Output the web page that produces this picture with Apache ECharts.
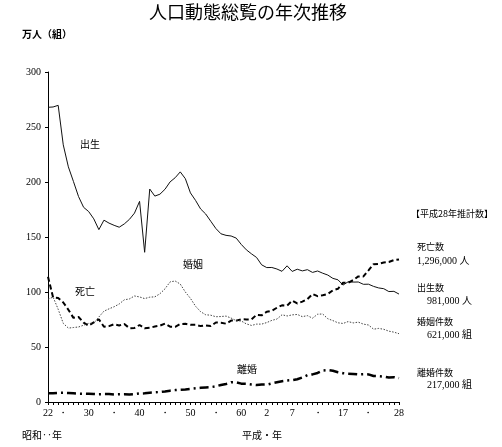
<!DOCTYPE html>
<html><head><meta charset="utf-8">
<script src="https://cdn.jsdelivr.net/npm/echarts@6/dist/echarts.min.js"></script>
<style>html,body{margin:0;padding:0;background:#fff}#c{width:502px;height:447px}</style>
</head><body><div id="c"></div>
<script>
const years = [];
for (let y = 1947; y <= 2016; y++) years.push(y);
const births = [267.9,268.2,269.7,233.8,213.8,200.5,186.8,177.0,173.1,166.5,156.7,165.3,162.6,160.6,158.9,161.9,166.0,171.7,182.4,136.1,193.6,187.2,188.9,193.4,200.1,203.9,209.2,203.0,190.1,183.3,175.5,170.9,164.3,157.7,152.9,151.5,150.9,149.0,143.2,138.3,134.7,131.4,124.7,122.2,122.3,120.9,118.8,123.8,118.7,120.7,119.2,120.3,117.8,119.1,117.1,115.4,112.4,111.1,106.3,109.3,109.0,109.1,107.0,107.1,105.1,103.7,103.0,100.4,100.6,98.1];
const deaths = [113.8,95.1,94.5,90.5,83.9,76.5,77.3,72.1,69.4,72.4,75.2,68.4,69.0,70.7,69.6,71.0,67.1,67.3,70.0,67.0,67.5,68.6,69.4,71.3,68.5,68.4,70.9,71.1,70.2,70.3,69.0,69.6,69.0,72.3,72.0,71.2,74.0,74.0,75.2,75.1,75.1,79.3,78.8,82.0,83.0,85.7,87.9,87.6,92.2,89.6,91.3,93.6,98.2,96.2,97.0,98.2,101.5,102.9,108.4,108.4,110.8,114.2,114.2,119.7,125.3,125.6,126.8,127.3,129.0,129.6];
const marriages = [93.4,95.4,84.3,71.5,67.2,67.7,68.2,69.8,71.5,71.5,77.3,82.6,84.7,86.6,89.1,92.9,93.7,96.4,95.5,94.0,95.3,95.6,98.4,102.9,109.2,110.0,107.2,100.0,94.2,87.1,82.1,79.3,78.9,77.5,77.7,78.1,76.3,73.9,73.6,71.0,69.6,70.8,70.8,72.2,74.2,75.4,79.3,78.2,79.2,79.6,77.6,78.5,76.2,79.8,80.0,75.7,74.0,72.0,71.4,73.1,71.9,72.6,70.8,70.0,66.2,66.9,66.1,64.4,63.5,62.1];
const divorces = [7.9,8.0,8.3,8.4,8.2,8.0,7.6,7.6,7.5,7.3,7.1,7.2,7.2,6.9,7.0,7.1,6.9,7.2,7.7,7.9,8.4,8.8,9.1,9.6,10.3,10.8,11.2,11.4,11.9,12.4,12.9,13.2,13.5,14.2,15.5,16.4,17.9,17.9,16.7,16.6,15.9,15.4,15.8,15.8,16.9,17.9,18.9,19.6,19.9,20.7,22.3,24.4,25.1,26.4,28.6,29.0,28.4,27.1,26.2,25.7,25.5,25.1,25.3,25.1,23.6,23.5,23.1,22.2,22.6,21.7];
const tickYears = [1947,1950,1955,1960,1965,1970,1975,1980,1985,1990,1995,2000,2005,2010,2016];
const tickLabels = ['22','・','30','・','40','・','50','・','60','2','7','・','17','・','28'];

const pair = arr => years.map((y, i) => [y, arr[i]]);
const serif = '"Liberation Serif","DejaVu Serif",serif';
const jp = '"Noto Sans CJK JP",sans-serif';
const txt = (x, y, t, font) => ({type:'text', left:x, top:y, style:{text:t, font:font || ('10px '+jp), fill:'#000'}});
const numFont = '10px '+serif+',"Noto Sans CJK JP"';

const chart = echarts.init(document.getElementById('c'));
chart.setOption({
  animation:false,
  backgroundColor:'#fff',
  grid:{left:48, right:103, top:72, bottom:45},
  xAxis:{type:'value', min:1947, max:2016, interval:1,
    axisLine:{lineStyle:{color:'#000', width:1}},
    axisTick:{show:true, length:3, lineStyle:{color:'#000'}},
    splitLine:{show:false},
    axisLabel:{color:'#000', fontFamily:serif, fontSize:10, margin:6,
      formatter: v => { const i = tickYears.indexOf(v); return i >= 0 ? tickLabels[i] : ''; }}
  },
  yAxis:{type:'value', min:0, max:300, interval:50,
    axisLine:{show:true, lineStyle:{color:'#000', width:1}},
    axisTick:{show:true, length:3, lineStyle:{color:'#000'}},
    splitLine:{show:false},
    axisLabel:{color:'#000', fontFamily:serif, fontSize:10, margin:7}
  },
  series:[
    {name:'出生', type:'line', data:pair(births), symbol:'none', lineStyle:{color:'#111', width:1}},
    {name:'死亡', type:'line', data:pair(deaths), symbol:'none', lineStyle:{color:'#000', width:2, type:[5,3]}},
    {name:'婚姻', type:'line', data:pair(marriages), symbol:'none', lineStyle:{color:'#444', width:1, type:[1.5,1.5]}},
    {name:'離婚', type:'line', data:pair(divorces), symbol:'none', lineStyle:{color:'#000', width:2.5, type:[9,4,2,4]}}
  ],
  graphic:[
    txt(149, 3, '人口動態総覧の年次推移', '18px '+jp),
    txt(22, 29, '万人（組）', 'bold 10px '+jp),
    txt(80, 139, '出生'),
    txt(75, 286, '死亡'),
    txt(183, 259, '婚姻'),
    txt(237, 364, '離婚'),
    txt(22, 430, '昭和‥年'),
    txt(242, 430, '平成・年'),
    txt(411, 209, '【平成28年推計数】', '9px '+jp),
    txt(417, 242, '死亡数', '9px '+jp),
    txt(417, 256, '1,296,000 人', numFont),
    txt(417, 283, '出生数', '9px '+jp),
    txt(427, 296, '981,000 人', numFont),
    txt(417, 317, '婚姻件数', '9px '+jp),
    txt(427, 330, '621,000 組', numFont),
    txt(417, 368, '離婚件数', '9px '+jp),
    txt(427, 380, '217,000 組', numFont)
  ]
});
</script></body></html>
